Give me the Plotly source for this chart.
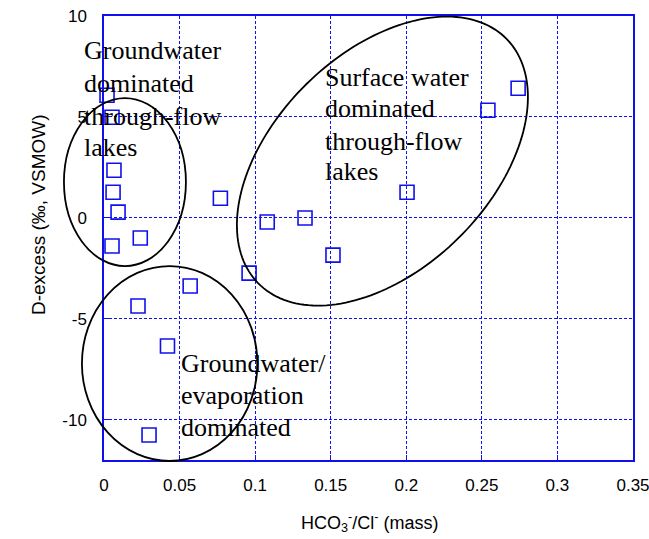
import numpy as np
import plotly.graph_objects as go

# ---- data ----
hco3_cl = [0.002, 0.0053, 0.0066, 0.006, 0.0093, 0.0053, 0.024, 0.077, 0.108,
           0.133, 0.1515, 0.274, 0.254, 0.2005, 0.096, 0.057, 0.0225, 0.042, 0.0298]
d_excess = [6.07, 4.98, 2.36, 1.27, 0.28, -1.4, -1.0, 0.97, -0.21,
            -0.01, -1.85, 6.42, 5.33, 1.27, -2.74, -3.38, -4.37, -6.35, -10.76]

x_ticks = [0, 0.05, 0.1, 0.15, 0.2, 0.25, 0.3, 0.35]
y_ticks = [-10, -5, 0, 5, 10]
x_range = [0, 0.35]
y_range = [-12, 10]

labels_gw = ["Groundwater", "dominated", "through-flow", "lakes"]
labels_sw = ["Surface water", "dominated", "through-flow", "lakes"]
labels_ev = ["Groundwater/", "evaporation", "dominated"]

# ---- layout geometry ----
W, H = 649, 539
ML, MR, MT, MB = 104, 16, 16, 79
PW, PH = W - ML - MR, H - MT - MB

BLUE = "#1010ee"


def xp(x):  # data -> paper
    return (x - x_range[0]) / (x_range[1] - x_range[0])


def yp(y):
    return (y - y_range[0]) / (y_range[1] - y_range[0])


def pxp(px):  # pixel -> paper
    return (px - ML) / PW


def pyp(py):
    return (MT + PH - py) / PH


fig = go.Figure()
fig.add_trace(go.Scatter(
    x=hco3_cl, y=d_excess, mode="markers",
    marker=dict(symbol="square-open", size=14, color=BLUE, line=dict(width=1.6, color=BLUE)),
    showlegend=False, cliponaxis=False, hoverinfo="skip",
))

shapes = []
# simple ellipses (data coordinates -> paper so they are not clipped)
for (x0, x1, y0, y1) in [(-0.0265, 0.0542, -2.39, 5.93), (-0.0146, 0.1015, -12.05, -2.39)]:
    shapes.append(dict(type="circle", xref="paper", yref="paper",
                       x0=xp(x0), x1=xp(x1), y0=yp(y0), y1=yp(y1),
                       line=dict(color="black", width=1.8), layer="above"))

# rotated ellipse
cx, cy = 0.1842, 2.81
a_px, b_px, ang = 174.2, 108.2, np.deg2rad(44.55)
px_per_x = PW / (x_range[1] - x_range[0])
px_per_y = PH / (y_range[1] - y_range[0])
t = np.linspace(0, 2 * np.pi, 181)
dx = a_px * np.cos(ang) * np.cos(t) - b_px * np.sin(ang) * np.sin(t)
dy = a_px * np.sin(ang) * np.cos(t) + b_px * np.cos(ang) * np.sin(t)
ex = xp(cx + dx / px_per_x)
ey = yp(cy + dy / px_per_y)
path = "M " + " L ".join(f"{a:.5f},{b:.5f}" for a, b in zip(ex, ey)) + " Z"
shapes.append(dict(type="path", xref="paper", yref="paper", path=path,
                   line=dict(color="black", width=1.8), layer="above"))

annotations = []
serif = dict(family="Liberation Serif", size=26, color="black")


def add_block(lines, left_px, centers_px):
    for txt, cy_px in zip(lines, centers_px):
        annotations.append(dict(text=txt, xref="paper", yref="paper",
                                x=pxp(left_px), y=pyp(cy_px), xanchor="left", yanchor="middle",
                                showarrow=False, font=serif))


add_block(labels_gw, 82, [51, 83, 116, 147])
add_block(labels_sw, 323, [77, 108, 141, 172])
add_block(labels_ev, 179, [363, 395, 427])

xtitle_font = dict(family="Liberation Sans", size=18, color="black")
ytitle_font = dict(family="Liberation Sans", size=19, color="black")
tickf = dict(family="Liberation Sans", size=17, color="black")
annotations.append(dict(text="HCO<sub>3</sub><sup>-</sup>/Cl<sup>-</sup> (mass)", xref="paper", yref="paper",
                        x=pxp(369), y=pyp(522), xanchor="center", yanchor="middle", showarrow=False,
                        font=xtitle_font))
annotations.append(dict(text="D-excess (‰, VSMOW)", xref="paper", yref="paper", textangle=-90,
                        x=pxp(38), y=pyp(215), xanchor="center", yanchor="middle", showarrow=False,
                        font=ytitle_font))

axis_common = dict(showline=True, linecolor=BLUE, linewidth=1.5, mirror=True,
                   showgrid=True, gridcolor=BLUE, gridwidth=1, griddash="3px,2px",
                   zeroline=False, ticks="inside", ticklen=5, tickcolor=BLUE, tickwidth=1,
                   tickfont=tickf, ticklabeloverflow="allow", automargin=False)

fig.update_xaxes(range=x_range, tickvals=x_ticks, ticktext=[f"{v:g}" for v in x_ticks],
                 ticklabelstandoff=9, **axis_common)
fig.update_yaxes(range=y_range, tickvals=y_ticks, ticktext=[f"{v:g}" for v in y_ticks],
                 ticklabelstandoff=12, **axis_common)

fig.update_layout(width=W, height=H, margin=dict(l=ML, r=MR, t=MT, b=MB, autoexpand=False),
                  paper_bgcolor="white", plot_bgcolor="white",
                  shapes=shapes, annotations=annotations, showlegend=False)

fig.write_html("out.html", config={"displayModeBar": False},
               post_script="document.body.style.margin='0';document.body.style.overflow='hidden';")
